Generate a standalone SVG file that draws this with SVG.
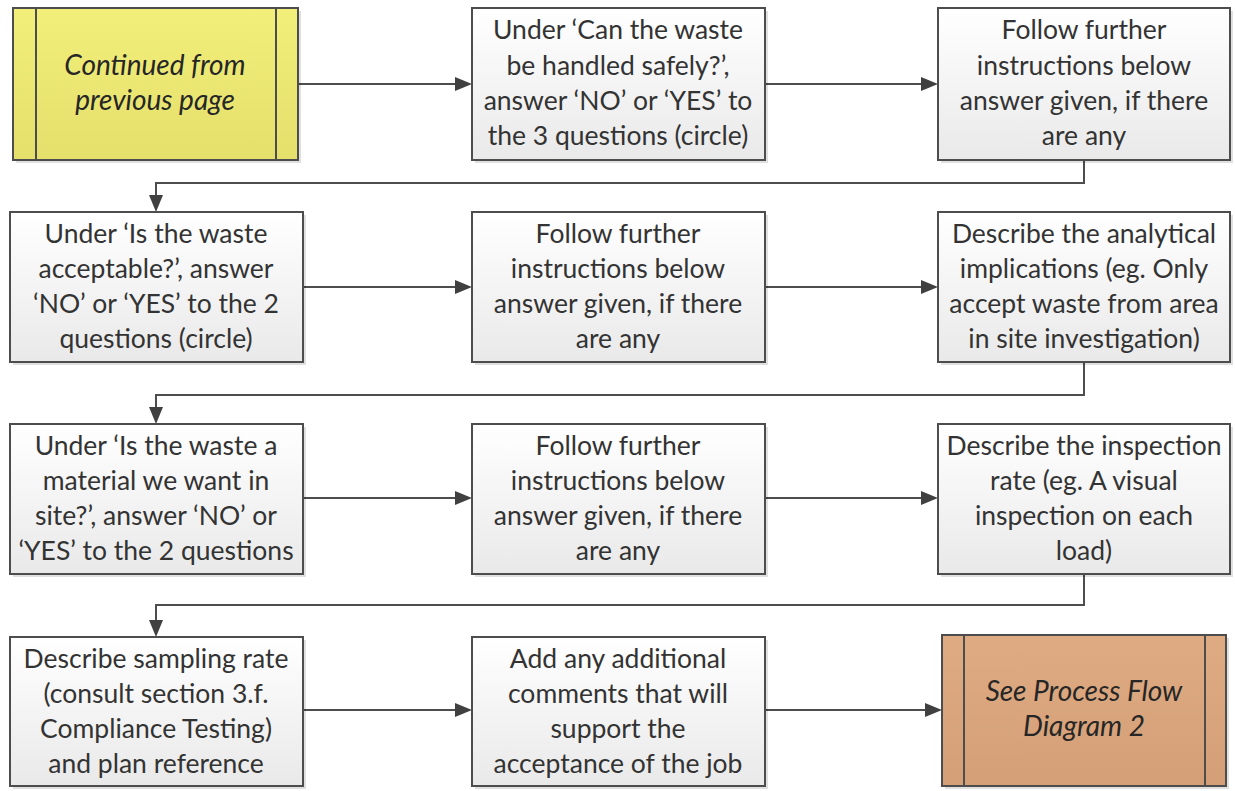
<svg xmlns="http://www.w3.org/2000/svg" width="1235" height="791" viewBox="0 0 1235 791">
  <style>
    .box { stroke: #4d4d4d; stroke-width: 2; }
    .proc { fill: url(#gradGrey); }
    .yel { fill: url(#gradYellow); }
    .brn { fill: url(#gradBrown); }
    .shadow { fill: #000; opacity: 0.12; }
    .bar { stroke: #4d4d4d; stroke-width: 2; fill: none; }
    .t { font-family: Lato, "Open Sans", "Liberation Sans", sans-serif; font-size: 26.5px; fill: #333333; text-anchor: middle; }
    .ti { font-style: italic; font-size: 28px; fill: #262626; }
    .conn { stroke: #4d4d4d; stroke-width: 2; fill: none; }
    .head { fill: #404040; }
  </style>
  <defs>
    <linearGradient id="gradGrey" x1="0" y1="0" x2="0" y2="1">
      <stop offset="0" stop-color="#ffffff"/>
      <stop offset="1" stop-color="#e9e9e9"/>
    </linearGradient>
    <linearGradient id="gradYellow" x1="0" y1="0" x2="0" y2="1">
      <stop offset="0" stop-color="#f2ef7a"/>
      <stop offset="1" stop-color="#e5df6c"/>
    </linearGradient>
    <linearGradient id="gradBrown" x1="0" y1="0" x2="0" y2="1">
      <stop offset="0" stop-color="#dfab83"/>
      <stop offset="1" stop-color="#d49f76"/>
    </linearGradient>
    <path id="headR" d="M0,0 l-17,-7 v14 z"/>
    <path id="headD" d="M0,0 l-7,-17 h14 z"/>
  </defs>
  <rect width="1235" height="791" fill="#ffffff"/>

  <!-- connectors -->
  <g id="connectors">
    <path class="conn" d="M298,84 H460"/>
    <path class="conn" d="M765,84 H926"/>
    <path class="conn" d="M1084,160 V183 H156 V200"/>
    <path class="conn" d="M303,287 H460"/>
    <path class="conn" d="M765,287 H926"/>
    <path class="conn" d="M1084,362 V395 H156 V412"/>
    <path class="conn" d="M303,498 H460"/>
    <path class="conn" d="M765,498 H926"/>
    <path class="conn" d="M1084,574 V605 H156 V625"/>
    <path class="conn" d="M303,710 H460"/>
    <path class="conn" d="M765,710 H930"/>
    <!-- arrowheads -->
    <use class="head" href="#headR" x="472" y="84"/>
    <use class="head" href="#headR" x="938" y="84"/>
    <use class="head" href="#headD" x="156" y="212"/>
    <use class="head" href="#headR" x="472" y="287"/>
    <use class="head" href="#headR" x="938" y="287"/>
    <use class="head" href="#headD" x="156" y="424"/>
    <use class="head" href="#headR" x="472" y="498"/>
    <use class="head" href="#headR" x="938" y="498"/>
    <use class="head" href="#headD" x="156" y="637"/>
    <use class="head" href="#headR" x="472" y="710"/>
    <use class="head" href="#headR" x="942" y="710"/>
  </g>

  <!-- row 1 -->
  <g id="start">
    <rect class="shadow" x="16" y="11" width="285" height="152"/>
    <rect class="box yel" x="13" y="8" width="285" height="152"/>
    <line class="bar" x1="36" y1="8" x2="36" y2="160"/>
    <line class="bar" x1="276" y1="8" x2="276" y2="160"/>
    <text class="t ti" x="155" y="75">Continued from</text>
    <text class="t ti" x="155" y="110">previous page</text>
  </g>
  <g id="handled-safely">
    <rect class="shadow" x="475" y="11" width="293" height="152"/>
    <rect class="box proc" x="472" y="8" width="293" height="152"/>
    <text class="t" x="618" y="39">Under ‘Can the waste</text>
    <text class="t" x="618" y="75">be handled safely?’,</text>
    <text class="t" x="618" y="110">answer ‘NO’ or ‘YES’ to</text>
    <text class="t" x="618" y="145">the 3 questions (circle)</text>
  </g>
  <g id="follow-1">
    <rect class="shadow" x="941" y="11" width="292" height="152"/>
    <rect class="box proc" x="938" y="8" width="292" height="152"/>
    <text class="t" x="1084" y="39">Follow further</text>
    <text class="t" x="1084" y="75">instructions below</text>
    <text class="t" x="1084" y="110">answer given, if there</text>
    <text class="t" x="1084" y="145">are any</text>
  </g>

  <!-- row 2 -->
  <g id="acceptable">
    <rect class="shadow" x="13" y="215" width="293" height="150"/>
    <rect class="box proc" x="10" y="212" width="293" height="150"/>
    <text class="t" x="156" y="243">Under ‘Is the waste</text>
    <text class="t" x="156" y="278">acceptable?’, answer</text>
    <text class="t" x="156" y="313">‘NO’ or ‘YES’ to the 2</text>
    <text class="t" x="156" y="348">questions (circle)</text>
  </g>
  <g id="follow-2">
    <rect class="shadow" x="475" y="215" width="293" height="150"/>
    <rect class="box proc" x="472" y="212" width="293" height="150"/>
    <text class="t" x="618" y="243">Follow further</text>
    <text class="t" x="618" y="278">instructions below</text>
    <text class="t" x="618" y="313">answer given, if there</text>
    <text class="t" x="618" y="348">are any</text>
  </g>
  <g id="analytical">
    <rect class="shadow" x="941" y="215" width="292" height="150"/>
    <rect class="box proc" x="938" y="212" width="292" height="150"/>
    <text class="t" x="1084" y="243">Describe the analytical</text>
    <text class="t" x="1084" y="278">implications (eg. Only</text>
    <text class="t" x="1084" y="313">accept waste from area</text>
    <text class="t" x="1084" y="348">in site investigation)</text>
  </g>

  <!-- row 3 -->
  <g id="material">
    <rect class="shadow" x="13" y="427" width="293" height="150"/>
    <rect class="box proc" x="10" y="424" width="293" height="150"/>
    <text class="t" x="156" y="455">Under ‘Is the waste a</text>
    <text class="t" x="156" y="490">material we want in</text>
    <text class="t" x="156" y="525">site?’, answer ‘NO’ or</text>
    <text class="t" x="156" y="560">‘YES’ to the 2 questions</text>
  </g>
  <g id="follow-3">
    <rect class="shadow" x="475" y="427" width="293" height="150"/>
    <rect class="box proc" x="472" y="424" width="293" height="150"/>
    <text class="t" x="618" y="455">Follow further</text>
    <text class="t" x="618" y="490">instructions below</text>
    <text class="t" x="618" y="525">answer given, if there</text>
    <text class="t" x="618" y="560">are any</text>
  </g>
  <g id="inspection">
    <rect class="shadow" x="941" y="427" width="292" height="150"/>
    <rect class="box proc" x="938" y="424" width="292" height="150"/>
    <text class="t" x="1084" y="455">Describe the inspection</text>
    <text class="t" x="1084" y="490">rate (eg. A visual</text>
    <text class="t" x="1084" y="525">inspection on each</text>
    <text class="t" x="1084" y="560">load)</text>
  </g>

  <!-- row 4 -->
  <g id="sampling">
    <rect class="shadow" x="13" y="640" width="293" height="149"/>
    <rect class="box proc" x="10" y="637" width="293" height="149"/>
    <text class="t" x="156" y="668">Describe sampling rate</text>
    <text class="t" x="156" y="703">(consult section 3.f.</text>
    <text class="t" x="156" y="738">Compliance Testing)</text>
    <text class="t" x="156" y="773">and plan reference</text>
  </g>
  <g id="comments">
    <rect class="shadow" x="475" y="640" width="293" height="149"/>
    <rect class="box proc" x="472" y="637" width="293" height="149"/>
    <text class="t" x="618" y="668">Add any additional</text>
    <text class="t" x="618" y="703">comments that will</text>
    <text class="t" x="618" y="738">support the</text>
    <text class="t" x="618" y="773">acceptance of the job</text>
  </g>
  <g id="end">
    <rect class="shadow" x="945" y="638" width="284" height="151"/>
    <rect class="box brn" x="942" y="635" width="284" height="151"/>
    <line class="bar" x1="964" y1="635" x2="964" y2="786"/>
    <line class="bar" x1="1205" y1="635" x2="1205" y2="786"/>
    <text class="t ti" x="1084" y="701">See Process Flow</text>
    <text class="t ti" x="1084" y="736">Diagram 2</text>
  </g>
</svg>
